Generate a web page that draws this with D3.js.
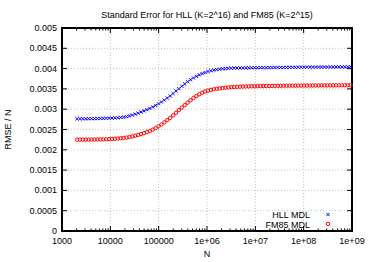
<!DOCTYPE html>
<html>
<head>
<meta charset="utf-8">
<script src="https://cdn.jsdelivr.net/npm/d3@7"></script>
<style>
  body { margin: 0; background: #fff; }
  text { font-family: "Liberation Sans", Arial, sans-serif; font-size: 9px; fill: #000; }
</style>
</head>
<body>
<script>
// sample sizes as powers of two: N = 2^e
const log2N = [
  11.0, 11.2, 11.4, 11.6, 11.8, 12.0, 12.2, 12.4, 12.6, 12.8,
  13.0, 13.2, 13.4, 13.6, 13.8, 14.0, 14.2, 14.4, 14.6, 14.8,
  15.0, 15.2, 15.4, 15.6, 15.8, 16.0, 16.2, 16.4, 16.6, 16.8,
  17.0, 17.2, 17.4, 17.6, 17.8, 18.0, 18.2, 18.4, 18.6, 18.8,
  19.0, 19.2, 19.4, 19.6, 19.8, 20.0, 20.2, 20.4, 20.6, 20.8,
  21.0, 21.2, 21.4, 21.6, 21.8, 22.0, 22.2, 22.4, 22.6, 22.8,
  23.0, 23.2, 23.4, 23.6, 23.8, 24.0, 24.2, 24.4, 24.6, 24.8,
  25.0, 25.2, 25.4, 25.6, 25.8, 26.0, 26.2, 26.4, 26.6, 26.8,
  27.0, 27.2, 27.4, 27.6, 27.8, 28.0, 28.2, 28.4, 28.6, 28.8,
  29.0, 29.2, 29.4, 29.6, 29.8
];

const hllMDL = [
  .002765, .002765, .002766, .002766, .002767, .002768, .002769, .002770, .002771, .002773,
  .002775, .002778, .002782, .002786, .002790, .002796, .002805, .002818, .002835, .002855,
  .002878, .002903, .002930, .002958, .002988, .003020, .003055, .003093, .003134, .003178,
  .003225, .003274, .003325, .003385, .003445, .003505, .003565, .003622, .003676, .003726,
  .003770, .003810, .003845, .003876, .003903, .003928, .003948, .003963, .003976, .003986,
  .003994, .004000, .004005, .004009, .004012, .004014, .004016, .004018, .004019, .004020,
  .004021, .004022, .004023, .004024, .004024, .004025, .004026, .004026, .004027, .004028,
  .004028, .004029, .004030, .004030, .004031, .004032, .004032, .004033, .004034, .004034,
  .004035, .004036, .004036, .004037, .004038, .004038, .004039, .004040, .004040, .004041,
  .004042, .004042, .004043, .004044, .004045
];

const fm85MDL = [
  .002250, .002250, .002251, .002251, .002252, .002253, .002254, .002255, .002256, .002258,
  .002260, .002263, .002267, .002272, .002278, .002285, .002293, .002303, .002315, .002330,
  .002347, .002366, .002387, .002410, .002435, .002462, .002495, .002533, .002576, .002624,
  .002676, .002731, .002788, .002849, .002912, .002976, .003040, .003102, .003160, .003220,
  .003275, .003325, .003368, .003405, .003435, .003458, .003476, .003490, .003502, .003512,
  .003521, .003529, .003536, .003542, .003547, .003551, .003555, .003558, .003561, .003563,
  .003565, .003567, .003569, .003570, .003571, .003572, .003573, .003574, .003575, .003576,
  .003577, .003578, .003578, .003579, .003580, .003580, .003581, .003582, .003582, .003583,
  .003584, .003584, .003585, .003585, .003586, .003586, .003587, .003587, .003588, .003588,
  .003588, .003589, .003589, .003590, .003590
];

const xTicks = [1e3, 1e4, 1e5, 1e6, 1e7, 1e8, 1e9];
const xTickLabels = ["1000", "10000", "100000", "1e+06", "1e+07", "1e+08", "1e+09"];
const yTicks = [0, 0.0005, 0.001, 0.0015, 0.002, 0.0025, 0.003, 0.0035, 0.004, 0.0045, 0.005];
const yTickLabels = ["0", "0.0005", "0.001", "0.0015", "0.002", "0.0025", "0.003", "0.0035", "0.004", "0.0045", "0.005"];

const width = 374, height = 262;
const pLeft = 62, pRight = 352, pTop = 28, pBottom = 231;

const x = d3.scaleLog().domain([1e3, 1e9]).range([pLeft, pRight]);
const y = d3.scaleLinear().domain([0, 0.005]).range([pBottom, pTop]);

const svg = d3.select("body").append("svg")
    .attr("width", width)
    .attr("height", height);

// grid
const grid = svg.append("g")
    .attr("stroke", "#b0b0b0")
    .attr("stroke-width", 0.8)
    .attr("stroke-dasharray", "1,2");
grid.selectAll("line.gx")
  .data(xTicks.slice(1, -1))
  .enter().append("line")
    .attr("x1", d => x(d)).attr("x2", d => x(d))
    .attr("y1", pTop).attr("y2", pBottom);
grid.selectAll("line.gy")
  .data(yTicks.slice(1, -1))
  .enter().append("line")
    .attr("x1", pLeft).attr("x2", pRight)
    .attr("y1", d => y(d)).attr("y2", d => y(d));

// ticks, gnuplot style: inward, mirrored
const minor = [];
for (let dec = 1e3; dec < 1e9; dec *= 10) {
  for (let k = 2; k <= 9; k++) minor.push(dec * k);
}
const ticks = svg.append("g").attr("stroke", "#000").attr("stroke-width", 1);
ticks.selectAll("line.xmaj")
  .data(xTicks)
  .enter().append("line")
    .attr("x1", d => x(d)).attr("x2", d => x(d))
    .attr("y1", pBottom).attr("y2", pBottom - 5);
ticks.selectAll("line.xmajt")
  .data(xTicks)
  .enter().append("line")
    .attr("x1", d => x(d)).attr("x2", d => x(d))
    .attr("y1", pTop).attr("y2", pTop + 5);
ticks.selectAll("line.xmin")
  .data(minor)
  .enter().append("line")
    .attr("x1", d => x(d)).attr("x2", d => x(d))
    .attr("y1", pBottom).attr("y2", pBottom - 2.5);
ticks.selectAll("line.xmint")
  .data(minor)
  .enter().append("line")
    .attr("x1", d => x(d)).attr("x2", d => x(d))
    .attr("y1", pTop).attr("y2", pTop + 2.5);
ticks.selectAll("line.yl")
  .data(yTicks)
  .enter().append("line")
    .attr("x1", pLeft).attr("x2", pLeft + 5)
    .attr("y1", d => y(d)).attr("y2", d => y(d));
ticks.selectAll("line.yr")
  .data(yTicks)
  .enter().append("line")
    .attr("x1", pRight).attr("x2", pRight - 5)
    .attr("y1", d => y(d)).attr("y2", d => y(d));

// border
svg.append("rect")
    .attr("x", pLeft).attr("y", pTop)
    .attr("width", pRight - pLeft).attr("height", pBottom - pTop)
    .attr("fill", "none")
    .attr("stroke", "#000")
    .attr("stroke-width", 2);

// tick labels
svg.selectAll("text.xl")
  .data(xTicks)
  .enter().append("text")
    .attr("x", d => x(d))
    .attr("y", pBottom + 13)
    .attr("text-anchor", "middle")
    .text((d, i) => xTickLabels[i]);
svg.selectAll("text.yl")
  .data(yTicks)
  .enter().append("text")
    .attr("x", pLeft - 5)
    .attr("y", d => y(d) + 3)
    .attr("text-anchor", "end")
    .text((d, i) => yTickLabels[i]);

// titles
svg.append("text")
    .attr("x", 207).attr("y", 17.5)
    .attr("text-anchor", "middle")
    .text("Standard Error for HLL (K=2^16) and FM85 (K=2^15)");
svg.append("text")
    .attr("x", 207).attr("y", 257)
    .attr("text-anchor", "middle")
    .text("N");
svg.append("text")
    .attr("transform", "translate(11," + (pTop + pBottom) / 2 + ") rotate(-90)")
    .attr("text-anchor", "middle")
    .text("RMSE / N");

// series
const hll = log2N.map((e, i) => ({n: Math.pow(2, e), v: hllMDL[i]}));
const fm = log2N.map((e, i) => ({n: Math.pow(2, e), v: fm85MDL[i]}));

function cross(g, cx, cy, r) {
  g.append("path")
    .attr("d", `M${cx - r},${cy - r}L${cx + r},${cy + r}M${cx - r},${cy + r}L${cx + r},${cy - r}`);
}

const gh = svg.append("g").attr("stroke", "#0000ff").attr("stroke-width", 1).attr("fill", "none");
hll.forEach(d => cross(gh, x(d.n), y(d.v), 1.6));

svg.append("g")
    .attr("stroke", "#ff0000").attr("stroke-width", 1).attr("fill", "none")
  .selectAll("circle")
  .data(fm)
  .enter().append("circle")
    .attr("cx", d => x(d.n))
    .attr("cy", d => y(d.v))
    .attr("r", 1.7);

// legend
svg.append("text").attr("x", 310).attr("y", 218).attr("text-anchor", "end").text("HLL MDL");
svg.append("text").attr("x", 310).attr("y", 227.5).attr("text-anchor", "end").text("FM85 MDL");
const gl = svg.append("g").attr("stroke", "#0000ff").attr("stroke-width", 1).attr("fill", "none");
cross(gl, 328, 214.5, 1.6);
svg.append("circle")
    .attr("cx", 328).attr("cy", 224)
    .attr("r", 1.7)
    .attr("fill", "none").attr("stroke", "#ff0000").attr("stroke-width", 1);
</script>
</body>
</html>
